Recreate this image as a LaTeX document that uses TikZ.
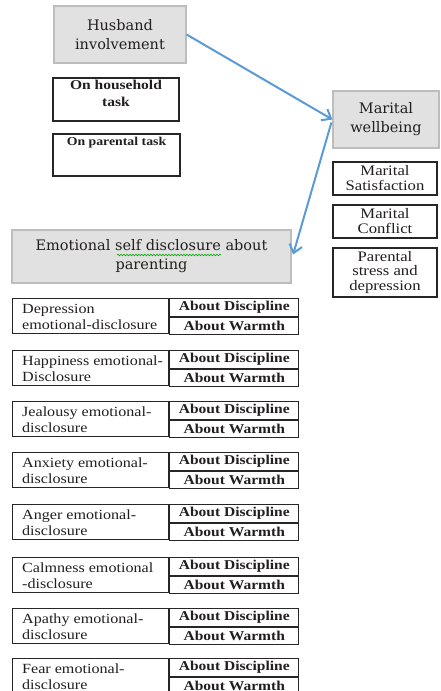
\documentclass[tikz,border=0pt]{standalone}
\usepackage{fontspec}
\setmainfont{Liberation Serif}[FakeStretch=1.15]
\newfontfamily\hdr{DejaVu Serif}
\usetikzlibrary{arrows.meta,calc,decorations.pathmorphing}
\definecolor{hfill}{HTML}{E1E1E1}
\definecolor{hdraw}{HTML}{BDBDBD}
\definecolor{arrowblue}{HTML}{5B9BD5}
\definecolor{txt}{HTML}{221E1E}
\tikzset{
  header/.style={draw=hdraw, line width=1.2pt, fill=hfill, inner sep=0pt, align=center,
    font=\hdr\fontsize{14.5}{19}\selectfont, text=txt},
  plainbox/.style={draw=black!85, line width=1.2pt, fill=white, inner sep=0pt, align=center, text=txt},
  lcell/.style={draw=black!85, line width=1.2pt, anchor=north west, minimum width=156pt,
    minimum height=35pt, inner sep=0pt},
  ltext/.style={anchor=west, inner sep=0pt, align=left, font=\fontsize{14}{16}\selectfont, text=txt},
  rcell/.style={draw=black!85, line width=1.2pt, anchor=north west, minimum width=129pt,
    minimum height=17.5pt, inner sep=0pt, font=\bfseries\fontsize{13.5}{15}\selectfont, text=txt},
  link/.style={draw=arrowblue, line width=2pt, -{Straight Barb[length=8pt,width=13pt,line width=2pt]}},
}
\begin{document}
\begin{tikzpicture}[x=1pt,y=-1pt]
\useasboundingbox (0,0) rectangle (440,691);
% header boxes
\node[header, minimum width=132pt, minimum height=57pt] (husband) at (120,34.5) {Husband\\involvement};
\node[header, minimum width=106pt, minimum height=57pt] (marital) at (386,119.5) {Marital\\wellbeing};
\node[header, minimum width=279pt, minimum height=53pt] (emo) at (151.5,256.5) {Emotional self disclosure about\\parenting};
\draw[green!65!black, line width=0.6pt, decorate, decoration={snake, amplitude=0.8pt, segment length=3pt}]
  ($(emo.center)+(-34.5,-1.5)$) -- ($(emo.center)+(69.5,-1.5)$);
% husband involvement sub boxes
\node[plainbox, minimum width=126pt, minimum height=43pt] (house) at (116,99.5) {};
\node[anchor=north, inner sep=0pt, align=center, font=\bfseries\fontsize{13.5}{16.5}\selectfont, text=txt] (housetxt) at ($(house.north)+(0,3)$) {On household\\task};
\node[plainbox, minimum width=127pt, minimum height=42pt] (ptask) at (116.5,155) {};
\node[anchor=north, inner sep=0pt, align=center, font=\bfseries\fontsize{12}{14}\selectfont, text=txt] (ptasktxt) at ($(ptask.north)+(0,3.5)$) {On parental task};
% marital wellbeing sub boxes
\node[plainbox, minimum width=104pt, minimum height=33pt, font=\fontsize{14.5}{15}\selectfont] (sat) at (385,178.5) {Marital\\Satisfaction};
\node[plainbox, minimum width=104pt, minimum height=33pt, font=\fontsize{14.5}{15}\selectfont] (conf) at (385,221.5) {Marital\\Conflict};
\node[plainbox, minimum width=104pt, minimum height=49pt, font=\fontsize{14.5}{14.2}\selectfont] (stress) at (385,272.5) {Parental\\stress and\\depression};
% arrows
\draw[link] (husband.east) -- (marital.west);
\draw[link] ($(marital.west)+(-1,3)$) -- ($(emo.east)+(1.5,-2)$);
% tables
\foreach \T/\a/\b [count=\i] in {298/Depression/emotional-disclosure,
    350/Happiness emotional-/Disclosure,
    401/Jealousy emotional-/disclosure,
    452/Anxiety emotional-/disclosure,
    504/Anger emotional-/disclosure,
    557/Calmness emotional/-disclosure,
    608/Apathy emotional-/disclosure,
    658/Fear emotional-/disclosure}{
  \node[lcell] (tl\i) at (12,\T) {};
  \node[ltext] (tt\i) at ($(tl\i.west)+(10,0.5)$) {\a\\\b};
  \node[rcell] (td\i) at (tl\i.north east) {About Discipline};
  \node[rcell] (tw\i) at (td\i.south west) {About Warmth};
}
\end{tikzpicture}
\end{document}
